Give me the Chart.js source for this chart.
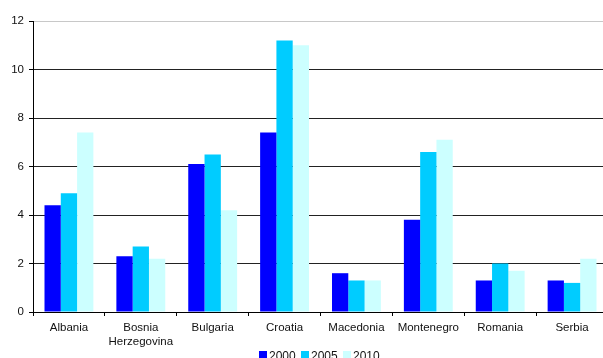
<!DOCTYPE html>
<html>
<head>
<meta charset="utf-8">
<script src="https://cdn.jsdelivr.net/npm/chart.js@4/dist/chart.umd.min.js"></script>
<style>
  html, body { margin: 0; padding: 0; background: #fff; overflow: hidden; }
  #wrap { width: 603px; height: 358px; overflow: hidden; }
  canvas { display: block; }
</style>
</head>
<body>
<div id="wrap"><canvas id="c" width="608" height="358"></canvas></div>
<script>
// Countries on the category axis
const countries = ['Albania', ['Bosnia', 'Herzegovina'], 'Bulgaria', 'Croatia',
                   'Macedonia', 'Montenegro', 'Romania', 'Serbia'];
// Values per year
const years = ['2000', '2005', '2010'];
const values2000 = [4.4, 2.3, 6.1, 7.4, 1.6, 3.8, 1.3, 1.3];
const values2005 = [4.9, 2.7, 6.5, 11.2, 1.3, 6.6, 2.0, 1.2];
const values2010 = [7.4, 2.2, 4.2, 11.0, 1.3, 7.1, 1.7, 2.2];
const yTicks = [0, 2, 4, 6, 8, 10, 12];

const colors = ['#0000FF', '#00CCFF', '#CCFFFF'];
const FONT = "'Liberation Sans', Arial, sans-serif";

// Simple legend row drawn below the axis labels
const bottomLegend = {
  id: 'bottomLegend',
  afterDraw(chart) {
    const ctx = chart.ctx;
    ctx.save();
    ctx.font = '12px ' + FONT;
    ctx.textBaseline = 'alphabetic';
    let x = 259;
    chart.data.datasets.forEach(ds => {
      ctx.fillStyle = ds.backgroundColor;
      ctx.fillRect(x, 351, 8, 8);
      ctx.fillStyle = '#111';
      ctx.fillText(ds.label, x + 10, 360);
      x += 42;
    });
    ctx.restore();
  }
};

new Chart(document.getElementById('c'), {
  type: 'bar',
  data: {
    labels: countries,
    datasets: [
      { label: years[0], data: values2000, backgroundColor: colors[0] },
      { label: years[1], data: values2005, backgroundColor: colors[1] },
      { label: years[2], data: values2010, backgroundColor: colors[2] }
    ]
  },
  options: {
    responsive: false,
    animation: false,
    layout: { padding: { top: 21, left: 0, right: 0, bottom: 0 } },
    datasets: { bar: { categoryPercentage: 0.68, barPercentage: 1.0, borderWidth: 0 } },
    plugins: { legend: { display: false }, tooltip: { enabled: false } },
    scales: {
      x: {
        offset: true,
        grid: { offset: true, drawOnChartArea: false, drawTicks: true, tickLength: 4, tickColor: '#000' },
        border: { color: '#000', width: 1 },
        ticks: { color: '#111', font: { family: FONT, size: 11.5 }, padding: 5, maxRotation: 0, autoSkip: false },
        afterFit(scale) { scale.height = 46; }
      },
      y: {
        min: 0, max: 12,
        afterBuildTicks(scale) { scale.ticks = yTicks.map(v => ({ value: v })); },
        grid: {
          color: c => (c.tick && c.tick.value === 12) ? '#c8c8c8' : '#222',
          lineWidth: 1, tickLength: 4, tickColor: '#000'
        },
        border: { color: '#000', width: 1 },
        ticks: { color: '#111', font: { family: FONT, size: 11.5 }, padding: 5 },
        afterFit(scale) { scale.width = 33; }
      }
    }
  },
  plugins: [bottomLegend]
});
</script>
</body>
</html>
